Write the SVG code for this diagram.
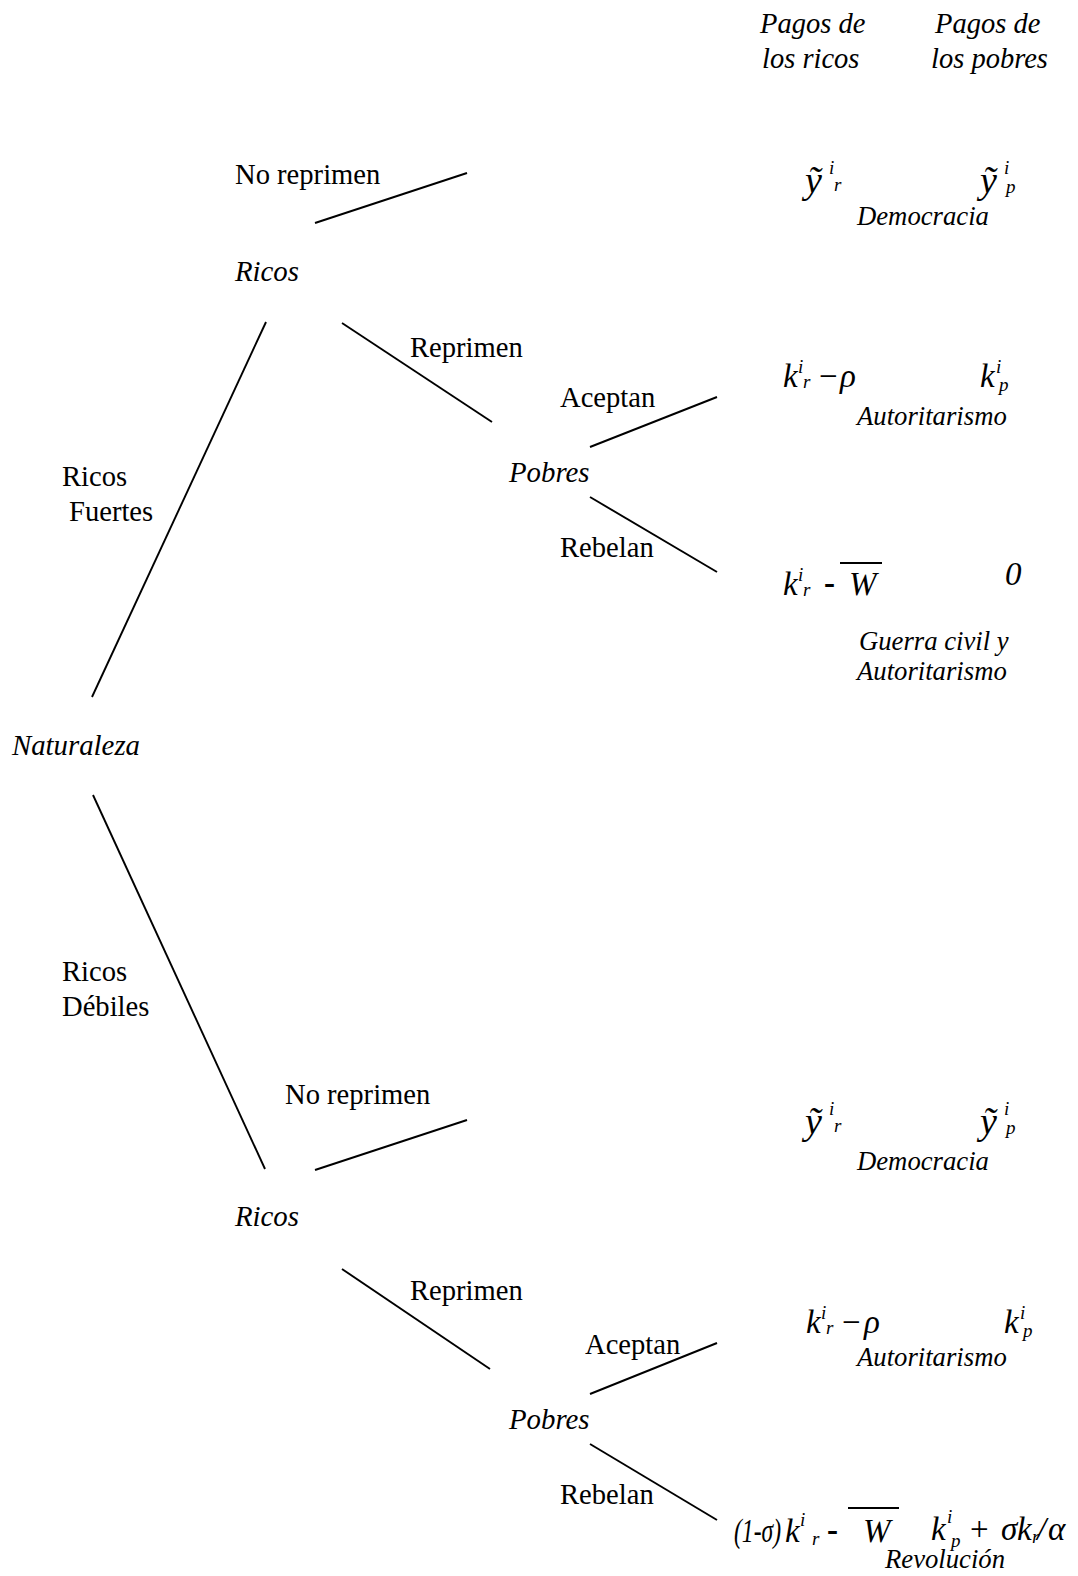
<svg xmlns="http://www.w3.org/2000/svg" width="1078" height="1576" viewBox="0 0 1078 1576">
<style>
text{font-family:"Liberation Serif","Times New Roman",serif;fill:#000}
.lbl{font-size:28.6px}
.nd{font-size:28.8px;font-style:italic}
.hd{font-size:28.5px;font-style:italic}
.out{font-size:26.7px;font-style:italic}
.m{font-size:33px;font-style:italic}
.y{font-size:38px;font-style:italic}
.mu{font-size:33px}
.sc{font-size:19px;font-style:italic}
.edge line{stroke:#000;stroke-width:1.9}
.bar{stroke:#000;stroke-width:1.8}
</style>
<rect width="1078" height="1576" fill="#fff"/>

<g id="headers">
<text class="hd" x="760" y="33">Pagos de</text>
<text class="hd" x="762" y="68">los ricos</text>
<text class="hd" x="935" y="33">Pagos de</text>
<text class="hd" x="931" y="68">los pobres</text>
</g>

<g id="connectors" class="edge">
<line x1="92" y1="697" x2="266" y2="322"/>
<line x1="315" y1="223" x2="467" y2="173"/>
<line x1="342" y1="323" x2="492" y2="422"/>
<line x1="590" y1="447" x2="717" y2="397"/>
<line x1="590" y1="497" x2="717" y2="572"/>
<line x1="93" y1="795" x2="265" y2="1169"/>
<line x1="315" y1="1170" x2="467" y2="1120"/>
<line x1="342" y1="1269" x2="490" y2="1369"/>
<line x1="590" y1="1394" x2="717" y2="1343"/>
<line x1="590" y1="1444" x2="717" y2="1520"/>
</g>

<g id="edge-labels">
<text class="lbl" x="235" y="184">No reprimen</text>
<text class="lbl" x="410" y="357">Reprimen</text>
<text class="lbl" x="560" y="407">Aceptan</text>
<text class="lbl" x="560" y="557">Rebelan</text>
<text class="lbl" x="62" y="486">Ricos</text>
<text class="lbl" x="69" y="521">Fuertes</text>
<text class="lbl" x="62" y="981">Ricos</text>
<text class="lbl" x="62" y="1016">Débiles</text>
<text class="lbl" x="285" y="1104">No reprimen</text>
<text class="lbl" x="410" y="1300">Reprimen</text>
<text class="lbl" x="585" y="1354">Aceptan</text>
<text class="lbl" x="560" y="1504">Rebelan</text>
</g>

<g id="naturaleza"><text class="nd" x="12" y="755">Naturaleza</text></g>
<g id="ricos-fuertes"><text class="nd" x="235" y="281">Ricos</text></g>
<g id="pobres-fuertes"><text class="nd" x="509" y="482">Pobres</text></g>
<g id="ricos-debiles"><text class="nd" x="235" y="1226">Ricos</text></g>
<g id="pobres-debiles"><text class="nd" x="509" y="1429">Pobres</text></g>

<g id="democracia-1">
<text class="y" x="805" y="193">ỹ</text>
<text class="sc" x="829" y="174">i</text>
<text class="sc" x="834" y="191">r</text>
<text class="y" x="980" y="193">ỹ</text>
<text class="sc" x="1004" y="174">i</text>
<text class="sc" x="1006" y="193">p</text>
<text class="out" x="857" y="225">Democracia</text>
</g>

<g id="autoritarismo-1">
<text class="m" x="783" y="387">k</text>
<text class="sc" x="798" y="373">i</text>
<text class="sc" x="803" y="388">r</text>
<text class="mu" x="819" y="387">−</text>
<text class="m" x="840" y="387">ρ</text>
<text class="m" x="980" y="387">k</text>
<text class="sc" x="996" y="373">i</text>
<text class="sc" x="999" y="391">p</text>
<text class="out" x="857" y="425">Autoritarismo</text>
</g>

<g id="guerra-civil">
<text class="m" x="783" y="595">k</text>
<text class="sc" x="798" y="581">i</text>
<text class="sc" x="803" y="596">r</text>
<text class="mu" x="824" y="594" font-weight="bold">-</text>
<line class="bar" x1="840" y1="563" x2="882" y2="563"/>
<text class="m" x="849" y="595">W</text>
<text class="m" x="1005" y="585">0</text>
<text class="out" x="859" y="650">Guerra civil y</text>
<text class="out" x="857" y="680">Autoritarismo</text>
</g>

<g id="democracia-2">
<text class="y" x="805" y="1134">ỹ</text>
<text class="sc" x="829" y="1115">i</text>
<text class="sc" x="834" y="1132">r</text>
<text class="y" x="980" y="1134">ỹ</text>
<text class="sc" x="1004" y="1115">i</text>
<text class="sc" x="1006" y="1134">p</text>
<text class="out" x="857" y="1170">Democracia</text>
</g>

<g id="autoritarismo-2">
<text class="m" x="806" y="1333">k</text>
<text class="sc" x="821" y="1319">i</text>
<text class="sc" x="826" y="1334">r</text>
<text class="mu" x="842" y="1333">−</text>
<text class="m" x="864" y="1333">ρ</text>
<text class="m" x="1004" y="1333">k</text>
<text class="sc" x="1020" y="1319">i</text>
<text class="sc" x="1023" y="1337">p</text>
<text class="out" x="857" y="1366">Autoritarismo</text>
</g>

<g id="revolucion">
<text class="m" x="734" y="1542" textLength="47" lengthAdjust="spacingAndGlyphs">(1-σ)</text>
<text class="m" x="785" y="1542">k</text>
<text class="sc" x="800" y="1526">i</text>
<text class="sc" x="812" y="1545">r</text>
<text class="mu" x="827" y="1541" font-weight="bold">-</text>
<line class="bar" x1="848" y1="1508" x2="899" y2="1508"/>
<text class="m" x="863" y="1542">W</text>
<text class="m" x="931" y="1540">k</text>
<text class="sc" x="947" y="1523">i</text>
<text class="sc" x="951" y="1547">p</text>
<text class="mu" x="970" y="1540">+</text>
<text class="m" x="1001" y="1540">σ</text>
<text class="m" x="1017" y="1540">k</text>
<text class="sc" x="1032" y="1543" font-size="15px">r</text>
<text class="m" x="1037" y="1540">/</text>
<text class="m" x="1048" y="1540">α</text>
<text class="out" x="885" y="1568">Revolución</text>
</g>
</svg>
